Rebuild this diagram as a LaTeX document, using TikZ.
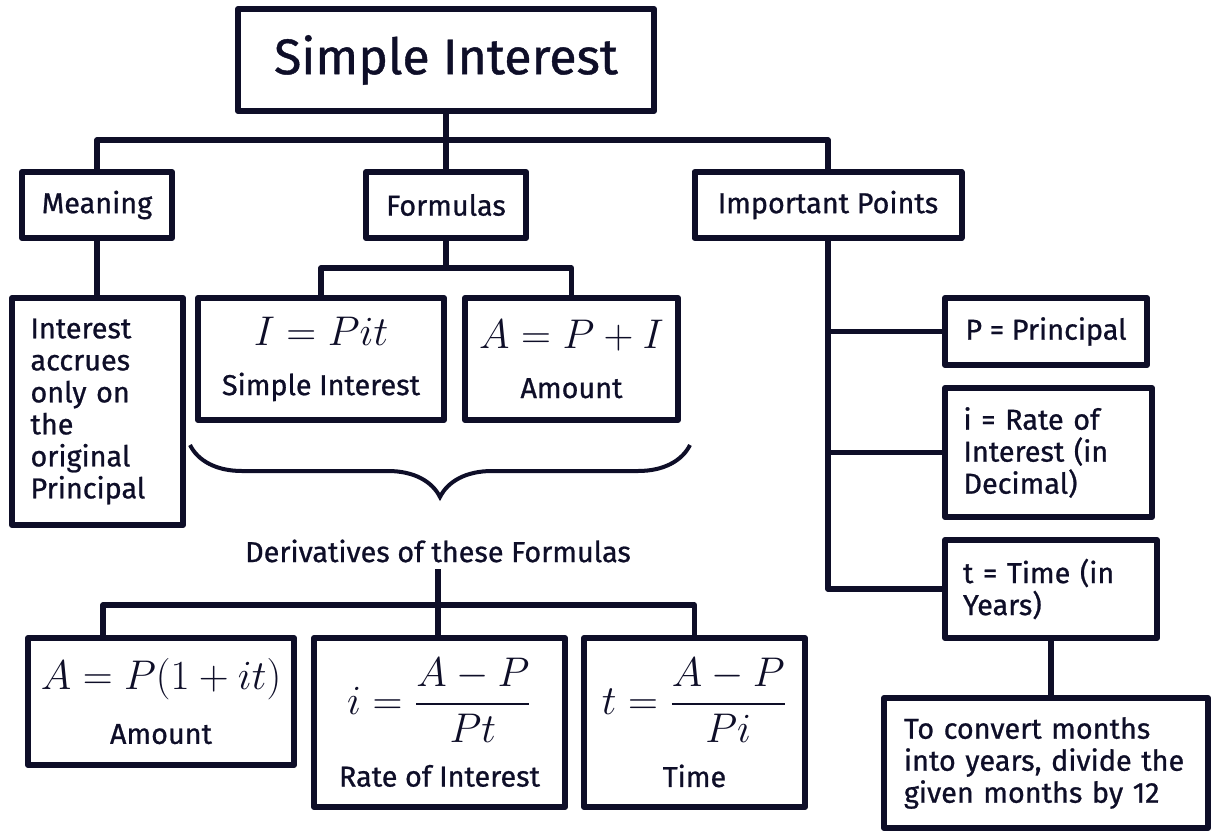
\documentclass[tikz,border=0pt]{standalone}
\usepackage{amsmath}
\usepackage{fontspec}
\setmainfont{Fira Sans}[FakeBold=0.8]
\usepackage{tikz}
\usetikzlibrary{calc, decorations.pathreplacing}
\definecolor{ink}{RGB}{14,14,40}
\newcommand{\siformula}[1]{{\fontsize{20.74}{24}\selectfont$#1$}}

\begin{document}
\begin{tikzpicture}[x=0.5pt, y=-0.5pt,
  box/.style={draw=ink, line width=3pt, line join=round, text=ink, inner sep=0pt,
    font=\fontsize{14.4}{16}\selectfont},
  wire/.style={draw=ink, line width=2.6pt, line join=round},
  label/.style={text=ink, font=\fontsize{14.4}{16}\selectfont}]
\path[fill=white] (0,0) rectangle (1211,831);
\useasboundingbox (0,0) rectangle (1211,831);

\node[box, minimum width=208pt, minimum height=51pt, font=\fontsize{25}{28}\selectfont] (title) at (446,60) {Simple Interest};
\node[box, minimum width=75pt, minimum height=33pt] (meaning) at (97,205) {Meaning};
\node[box, minimum width=80pt, minimum height=33pt] (formulas) at (446,205) {Formulas};
\node[box, minimum width=133.5pt, minimum height=33pt] (points) at (828,205) {Important Points};

\node[box, minimum width=85.5pt, minimum height=113.5pt, text width=67pt, align=left] (meantext) at (97.5,411.5) {Interest\\accrues\\only on\\the\\original\\Principal};
\node[box, minimum width=123pt, minimum height=61pt, align=center] (pit) at (321,359) {\siformula{I=Pit}\\[9pt]Simple Interest};
\node[box, minimum width=106.5pt, minimum height=61pt, align=center] (amt) at (571.5,359) {\siformula{A=P+I}\\[9pt]Amount};

\draw[ink, line width=2pt, decorate, decoration={brace, mirror, amplitude=26pt}] (190,445) -- (690,445);
\node[label] (deriv) at (438,551) {Derivatives of these Formulas};

\node[box, minimum width=133pt, minimum height=63.5pt, align=center] (amount) at (161,701.5) {\siformula{A=P(1+it)}\\[11pt]Amount};
\node[box, minimum width=125.5pt, minimum height=84.5pt, align=center] (rate) at (439.5,722.5) {\siformula{i=\dfrac{A-P}{Pt}}\\[10pt]Rate of Interest};
\node[box, minimum width=110.5pt, minimum height=84.5pt, align=center] (time) at (694.5,722.5) {\siformula{t=\dfrac{A-P}{Pi}}\\[10pt]Time};

\node[box, minimum width=101pt, minimum height=33.5pt] (principal) at (1046,331.5) {P = Principal};
\node[box, minimum width=103.5pt, minimum height=64.5pt, text width=85pt, align=left] (ratedef) at (1048.5,452.5) {i = Rate of\\Interest (in\\Decimal)};
\node[box, minimum width=106pt, minimum height=49pt, text width=88pt, align=left] (timedef) at (1051,589) {t = Time (in\\Years)};
\node[box, minimum width=162pt, minimum height=65pt, text width=142pt, align=left] (months) at (1046,763) {To convert months\\into years, divide the\\given months by 12};

\coordinate (topbus) at (446,140);
\coordinate (formbus) at (446,268);
\coordinate (derivbus) at (438,605);
\draw[wire] (title.south) -- (formulas.north);
\draw[wire] (meaning.north) |- (topbus) -| (points.north);
\draw[wire] (meaning.south) -- (meaning.south |- meantext.north);
\draw[wire] (formulas.south) -- (formbus);
\draw[wire] (pit.north) |- (formbus) -| (amt.north);
\draw[wire] (deriv.south) -- (deriv.south |- rate.north);
\draw[wire] ([xshift=-29pt]amount.north) |- (derivbus) -| (time.north);
\draw[wire] (points.south) |- (timedef.west);
\draw[wire] (points.south |- principal.west) -- (principal.west);
\draw[wire] (points.south |- ratedef.west) -- (ratedef.west);
\draw[wire] (timedef.south) -- (timedef.south |- months.north);
\end{tikzpicture}
\end{document}
